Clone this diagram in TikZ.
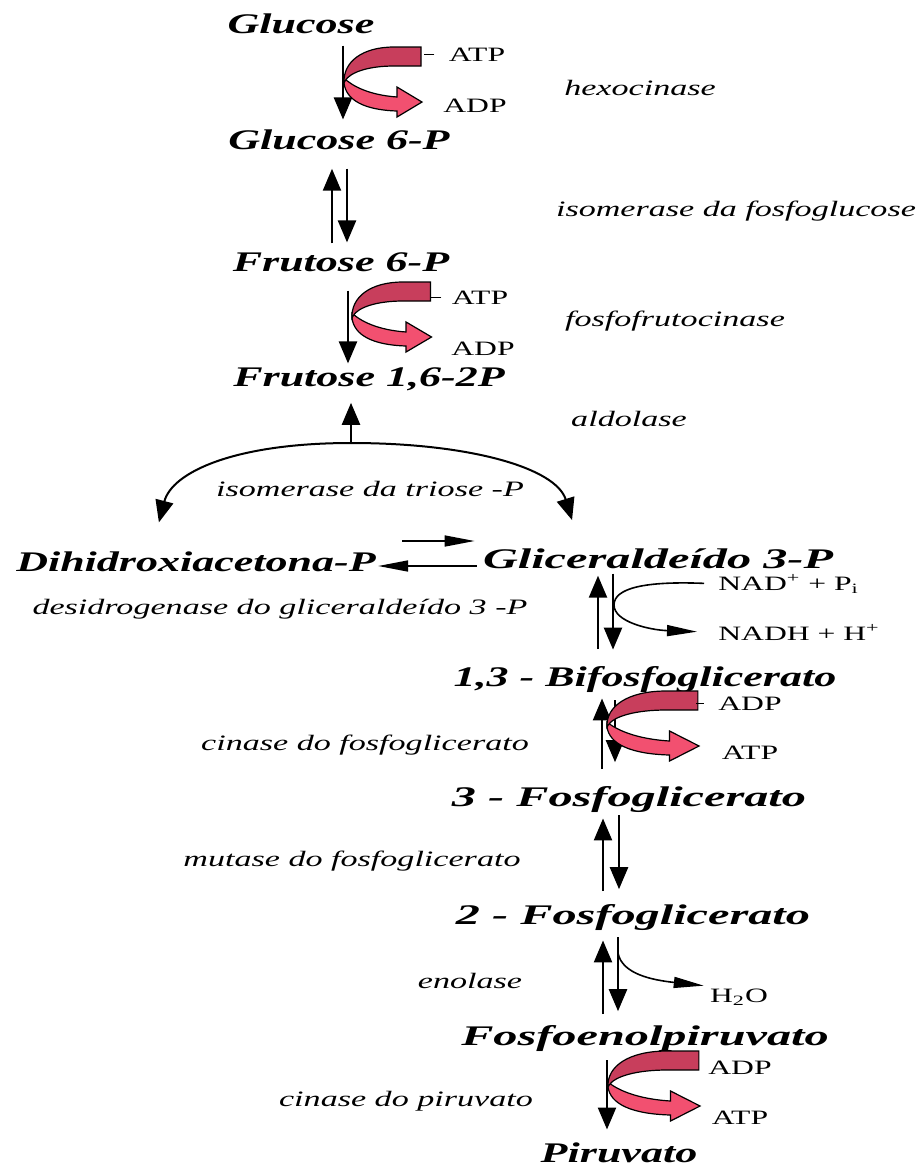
\documentclass[tikz,border=0pt]{standalone}
\usepackage{fontspec}
\setmainfont{Liberation Serif}[FakeStretch=1.55]
\newfontfamily\widefont{Liberation Serif}[FakeStretch=1.7]
\usepackage{xcolor}
\usepackage{tikz}
\usetikzlibrary{arrows.meta,positioning}

\definecolor{ribdark}{RGB}{200,62,92}
\definecolor{ribpink}{RGB}{242,80,112}

% folded ATP/ADP ribbon: turn point, width factor
\newcommand{\flipribbon}[2]{%
  \begin{scope}[shift={#1}, xscale=#2]
    \filldraw[fill=ribpink, line width=0.6pt]
      (0,0) .. controls (8,8) and (25,17) .. (53,19) -- (53,9) -- (78,24)
      -- (53,39) -- (53,33) .. controls (20,32) and (2,22) .. (0,5) -- cycle;
    \filldraw[fill=ribdark, line width=0.6pt]
      (0,5) .. controls (-1,-16) and (18,-31) .. (50,-31) -- (77,-31)
      -- (77,-12) -- (50,-12) .. controls (25,-12) and (6,-6) .. (1,3) -- cycle;
  \end{scope}}

\begin{document}
\begin{tikzpicture}[
  x=0.5pt, y=-0.5pt,
  met/.style={font=\fontsize{14.2}{16}\selectfont\bfseries\itshape,
              inner sep=1pt, anchor=base},
  metw/.style={met, font=\fontsize{14.2}{16}\selectfont\widefont\bfseries\itshape},
  enz/.style={font=\fontsize{11}{13}\selectfont\itshape,
              inner sep=1pt, anchor=base},
  cof/.style={font=\fontsize{10.2}{12}\selectfont, inner sep=1pt, anchor=base},
  arr/.style={-{Triangle[length=11pt,width=9pt]}, line width=1.2pt},
  slim/.style={-{Triangle[length=15pt,width=5.5pt]}, line width=0.8pt},
  tick/.style={line width=0.6pt}
]
\useasboundingbox (0,0) rectangle (922,1168);

% metabolites
\node[met]  (glc)  at (301,33)   {Glucose};
\node[met]  (g6p)  at (339,149)  {Glucose 6-P};
\node[met]  (f6p)  at (341,271)  {Frutose 6-P};
\node[met]  (f16)  at (369,386)  {Frutose 1,6-2P};
\node[met]  (dhap) at (196,571)  {Dihidroxiacetona-P};
\node[metw] (gap)  at (658,568)  {Gliceraldeído 3-P};
\node[met]  (bpg)  at (645,686)  {1,3 - Bifosfoglicerato};
\node[metw] (pg3)  at (629,806)  {3 - Fosfoglicerato};
\node[metw] (pg2)  at (633,924)  {2 - Fosfoglicerato};
\node[metw] (pep)  at (645,1045) {Fosfoenolpiruvato};
\node[met]  (pyr)  at (619,1162) {Piruvato};

% enzymes
\node[enz] (hk)    at (640,95)   {hexocinase};
\node[enz] (pgi)   at (736,216)  {isomerase da fosfoglucose};
\node[enz] (pfk)   at (675,326)  {fosfofrutocinase};
\node[enz] (ald)   at (629,426)  {aldolase};
\node[enz] (tpi)   at (370,496)  {isomerase da triose -P};
\node[enz] (gapdh) at (280,614)  {desidrogenase do gliceraldeído 3 -P};
\node[enz] (pgk)   at (365,750)  {cinase do fosfoglicerato};
\node[enz] (pgm)   at (352,866)  {mutase do fosfoglicerato};
\node[enz] (eno)   at (470,988)  {enolase};
\node[enz] (pk)    at (406,1106) {cinase do piruvato};

% cofactors
\node[cof] (atpA) at (477,61)   {ATP};
\node[cof] (adpA) at (475,112)  {ADP};
\node[cof] (atpB) at (480,304)  {ATP};
\node[cof] (adpB) at (483,355)  {ADP};
\node[cof, anchor=base west] (nad)  at (716,590) {NAD\textsuperscript{+} + P\textsubscript{i}};
\node[cof, anchor=base west] (nadh) at (716,640) {NADH + H\textsuperscript{+}};
\node[cof] (adpC) at (750,710)  {ADP};
\node[cof] (atpC) at (750,759)  {ATP};
\node[cof] (h2o)  at (739,1002) {H\textsubscript{2}O};
\node[cof] (adpD) at (740,1074) {ADP};
\node[cof] (atpD) at (740,1124) {ATP};

% hexocinase
\draw[arr, shorten <=5pt, shorten >=3.7pt] (glc.south -| 343,0) -- (g6p.north -| 343,0);
\flipribbon{(344,78)}{1}
\draw[tick] (atpA.west) ++(-6pt,0) -- ++(-5pt,0);

% isomerase da fosfoglucose
\draw[arr, shorten <=3.2pt, shorten >=8.5pt] (f6p.north -| 332,0) -- (g6p.south -| 332,0);
\draw[arr, shorten <=8.5pt, shorten >=3.7pt] (g6p.south -| 347,0) -- (f6p.north -| 347,0);

% fosfofrutocinase
\draw[arr, shorten <=8.5pt, shorten >=0.7pt] (f6p.south -| 348,0) -- (f16.north -| 348,0);
\flipribbon{(352,313)}{1.02}
\draw[tick] (atpB.west) ++(-4pt,0) -- ++(-5pt,0);

% aldolase
\coordinate (split) at (351,443);
\draw[arr, shorten >=5pt] (split) -- (f16.south -| split);
\draw[arr, line width=1pt, shorten >=13.7pt] (split) .. controls (235,443) and (172,472) .. (dhap.north -| 152,0);
\draw[arr, line width=1pt, shorten >=13.5pt] (split) .. controls (470,443) and (556,468) .. (gap.north -| 580,0);

% isomerase da triose-P
\draw[slim, shorten <=12pt, shorten >=3pt] (dhap.east |- 0,541) -- (gap.west |- 0,541);
\draw[slim, shorten <=2pt] (gap.west |- 0,566) -- (dhap.east |- 0,566);

% desidrogenase do gliceraldeido 3-P
\draw[arr, shorten <=7.2pt, shorten >=2.5pt] (bpg.north -| 598,0) -- (gap.south -| 598,0);
\draw[arr, shorten <=1.5pt, shorten >=7pt] (gap.south -| 613,0) -- (bpg.north -| 613,0);
\draw[slim, shorten <=6pt, shorten >=9.5pt] (nad.west)
  .. controls (645,581) and (614,588) .. (614,605)
  .. controls (614,622) and (650,630) .. (nadh.west);

% cinase do fosfoglicerato
\draw[arr, shorten <=7.2pt, shorten >=2pt] (pg3.north -| 602,0) -- (bpg.south -| 602,0);
\draw[arr, shorten <=3pt, shorten >=10.7pt] (bpg.south -| 615,0) -- (pg3.north -| 615,0);
\flipribbon{(607,722)}{1.18}
\draw[tick] (adpC.west) ++(-6pt,0) -- ++(-4pt,0);

% mutase do fosfoglicerato
\draw[arr, shorten <=5.2pt, shorten >=2pt] (pg2.north -| 603,0) -- (pg3.south -| 603,0);
\draw[arr, shorten <=0.5pt, shorten >=6.2pt] (pg3.south -| 619,0) -- (pg2.north -| 619,0);

% enolase
\draw[arr, shorten <=4.2pt, shorten >=4pt] (pep.north -| 603,0) -- (pg2.south -| 603,0);
\draw[arr, shorten <=2.5pt, shorten >=5.7pt] (pg2.south -| 618,0) -- (pep.north -| 618,0);
\coordinate (wat) at (618,953);
\draw[slim, shorten >=2pt] (wat) .. controls (622,974) and (652,980) .. (h2o.north west);

% cinase do piruvato
\draw[arr, shorten <=3.5pt, shorten >=5.2pt] (pep.south -| 607,0) -- (pyr.north -| 607,0);
\flipribbon{(608,1082)}{1.18}
\end{tikzpicture}
\end{document}
